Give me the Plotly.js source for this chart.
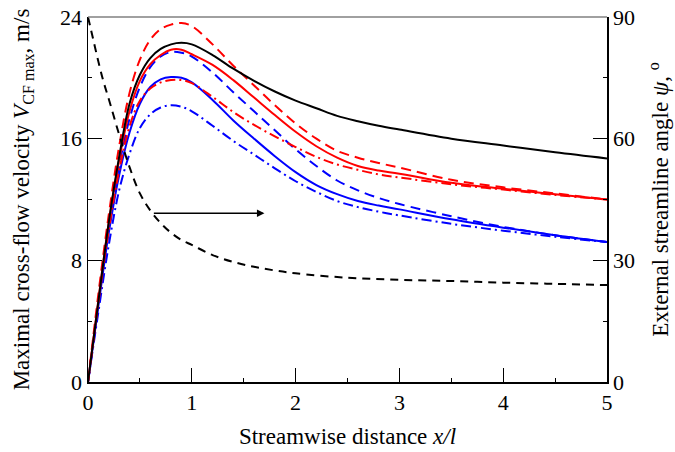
<!DOCTYPE html>
<html>
<head>
<meta charset="utf-8">
<script src="https://cdn.plot.ly/plotly-3.0.1.min.js"></script>
<style>html,body{margin:0;padding:0;background:#fff;}#chart{width:675px;height:452px;}</style>
</head>
<body>
<div id="chart"></div>
<script>
// x positions (streamwise distance x/l)
const xs = [0, 0.1, 0.2, 0.3, 0.4, 0.5, 0.6, 0.7, 0.8, 0.9, 1.0, 1.2, 1.4, 1.6, 1.8, 2.0, 2.2, 2.4, 2.6, 2.8, 3.0, 3.5, 4.0, 4.5, 5.0];

// Maximal cross-flow velocity, m/s
const blackSolid   = [0, 5.3, 10.5, 14.8, 18.3, 20.2, 21.3, 21.9, 22.2, 22.3, 22.2, 21.5, 20.6, 19.8, 19.1, 18.5, 18.0, 17.5, 17.15, 16.85, 16.6, 16.0, 15.55, 15.1, 14.7];
const redDashed    = [0, 5.8, 11.0, 15.5, 19.0, 21.2, 22.5, 23.2, 23.5, 23.6, 23.4, 22.2, 20.8, 19.5, 18.2, 17.0, 16.0, 15.2, 14.75, 14.4, 14.1, 13.3, 12.8, 12.4, 12.0];
const redSolid     = [0, 5.4, 10.5, 14.6, 17.8, 19.8, 20.9, 21.5, 21.85, 21.85, 21.55, 20.85, 19.85, 18.7, 17.55, 16.45, 15.5, 14.75, 14.2, 13.9, 13.7, 13.1, 12.7, 12.35, 12.0];
const redDashDot   = [0, 5.2, 10.0, 13.9, 16.8, 18.5, 19.3, 19.7, 19.85, 19.85, 19.65, 18.75, 17.75, 16.9, 16.15, 15.45, 14.8, 14.3, 13.95, 13.65, 13.45, 13.0, 12.65, 12.3, 12.0];
const blueDashed   = [0, 5.2, 10.2, 14.2, 17.3, 19.4, 20.7, 21.4, 21.7, 21.65, 21.4, 20.35, 19.05, 17.8, 16.55, 15.3, 14.2, 13.25, 12.6, 12.1, 11.7, 10.9, 10.2, 9.65, 9.2];
const blueSolid    = [0, 5.0, 9.8, 13.6, 16.4, 18.3, 19.4, 19.9, 20.05, 20.0, 19.7, 18.55, 17.2, 16.0, 14.85, 13.8, 12.95, 12.35, 11.9, 11.6, 11.35, 10.7, 10.15, 9.65, 9.2];
const blueDashDot  = [0, 4.6, 9.0, 12.6, 15.0, 16.7, 17.6, 18.05, 18.2, 18.1, 17.8, 16.85, 15.85, 14.95, 14.05, 13.2, 12.5, 11.9, 11.5, 11.2, 10.95, 10.4, 9.95, 9.55, 9.2];

// External streamline angle psi, degrees (right axis)
const psiX = [0, 0.05, 0.1, 0.15, 0.2, 0.3, 0.4, 0.5, 0.6, 0.7, 0.8, 0.9, 1.0, 1.2, 1.4, 1.6, 1.8, 2.0, 2.5, 3.0, 3.5, 4.0, 4.5, 5.0];
const psi  = [90, 84.5, 79, 74, 69.8, 61, 53, 46.5, 42.3, 39.2, 36.8, 35, 33.8, 31.3, 29.6, 28.4, 27.5, 26.8, 25.7, 25.2, 24.9, 24.5, 24.2, 23.9];

// Arrow (pointing to right axis)
const arrowFrom = [0.62, 11.1];
const arrowTo   = [1.70, 11.1];

const RED = '#ff0000', BLUE = '#0000ff', BLACK = '#000000';
const DASH = '10px,6px';
const DASHDOT = '10px,4px,2px,4px';
const W = 2;

function tr(y, color, dash) {
  return {x: xs, y: y, type: 'scatter', mode: 'lines', yaxis: 'y',
    line: {color: color, width: W, dash: dash, shape: 'spline', smoothing: 1},
    hoverinfo: 'skip', showlegend: false};
}

const data = [
  tr(blueDashDot, BLUE, DASHDOT),
  tr(blueSolid, BLUE, 'solid'),
  tr(blueDashed, BLUE, DASH),
  tr(redDashDot, RED, DASHDOT),
  tr(redSolid, RED, 'solid'),
  tr(redDashed, RED, DASH),
  tr(blackSolid, BLACK, 'solid'),
  {x: psiX, y: psi, type: 'scatter', mode: 'lines', yaxis: 'y2',
   line: {color: BLACK, width: W, dash: '8px,6px', shape: 'spline', smoothing: 1},
   hoverinfo: 'skip', showlegend: false}
];

const FONT = 'Liberation Serif, Times New Roman, serif';
const TICKSIZE = 22, TITLESIZE = 23;
const layout = {
  width: 675, height: 452,
  margin: {l: 88, r: 68, t: 17, b: 70},
  paper_bgcolor: '#fff', plot_bgcolor: '#fff',
  font: {family: FONT, size: TICKSIZE, color: '#000'},
  showlegend: false,
  xaxis: {
    range: [0, 5], dtick: 1, tick0: 0,
    ticks: 'inside', ticklen: 14, tickwidth: 1.2, tickcolor: '#000',
    minor: {dtick: 0.5, ticks: 'inside', ticklen: 4, tickcolor: '#000', tickwidth: 1},
    showline: true, linecolor: '#000', linewidth: 1.5, mirror: false,
    showgrid: false, zeroline: false,
    tickfont: {family: FONT, size: TICKSIZE},
    title: {text: 'Streamwise distance <i>x/l</i>', font: {family: FONT, size: TITLESIZE}, standoff: 14}
  },
  yaxis: {
    range: [0, 24], dtick: 8, tick0: 0,
    ticks: 'inside', ticklen: 14, tickwidth: 1.2, tickcolor: '#000',
    minor: {dtick: 4, ticks: 'inside', ticklen: 4, tickcolor: '#000', tickwidth: 1},
    showline: true, linecolor: '#000', linewidth: 1.5,
    showgrid: false, zeroline: false,
    tickfont: {family: FONT, size: TICKSIZE},
    title: {text: 'Maximal cross-flow velocity <i>V</i><sub>CF max</sub>, m/s', font: {family: FONT, size: TITLESIZE}, standoff: 24}
  },
  yaxis2: {
    range: [0, 90], dtick: 30, tick0: 0, overlaying: 'y', side: 'right',
    ticks: 'inside', ticklen: 14, tickwidth: 1.2, tickcolor: '#000',
    minor: {dtick: 15, ticks: 'inside', ticklen: 4, tickcolor: '#000', tickwidth: 1},
    showline: true, linecolor: '#000', linewidth: 1.5,
    showgrid: false, zeroline: false,
    tickfont: {family: FONT, size: TICKSIZE},
    title: {text: 'External streamline angle <i>ψ</i>, <sup>o</sup>', font: {family: FONT, size: TITLESIZE}, standoff: 18}
  },
  shapes: [
    {type: 'line', xref: 'paper', yref: 'paper', x0: 0, x1: 1, y0: 1, y1: 1, line: {color: '#808080', width: 1.5}}
  ],
  annotations: [
    {x: arrowTo[0], y: arrowTo[1], ax: arrowFrom[0], ay: arrowFrom[1], xref: 'x', yref: 'y', axref: 'x', ayref: 'y',
     showarrow: true, arrowhead: 2, arrowsize: 1, arrowwidth: 1.5, arrowcolor: '#000', text: ''}
  ]
};

Plotly.newPlot('chart', data, layout, {displayModeBar: false, staticPlot: true});
</script>
</body>
</html>
